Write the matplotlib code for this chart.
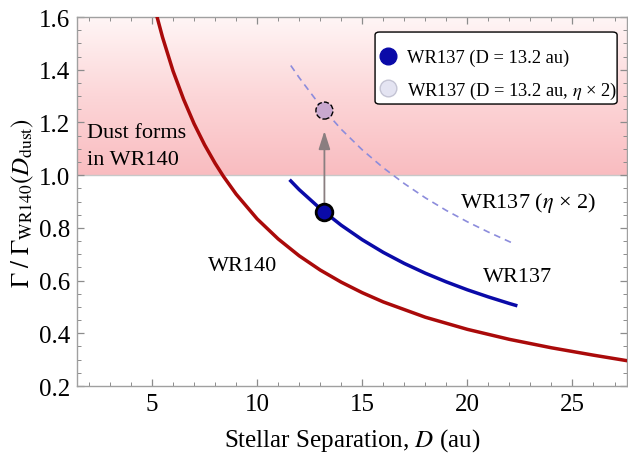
import numpy as np
import matplotlib
matplotlib.use('Agg')
import matplotlib.pyplot as plt
from matplotlib.colors import LinearSegmentedColormap
from matplotlib.lines import Line2D
from matplotlib.patches import FancyBboxPatch

# WR140 curve
d_wr140 = [5.24, 5.5, 6.0, 6.5, 7.0, 7.5, 8.0, 8.4, 9.0, 10.0, 11.0, 12.0, 13.0, 14.0,
           15.0, 16.0, 18.0, 20.0, 22.0, 24.0, 26.0, 27.6]
g_wr140 = [1.60, 1.523, 1.395, 1.288, 1.195, 1.115, 1.045, 0.995, 0.928, 0.834, 0.758, 0.694,
           0.640, 0.594, 0.554, 0.519, 0.461, 0.415, 0.377, 0.345, 0.317, 0.296]

# WR137 curve
d_wr137 = [11.6, 12.0, 13.0, 14.0, 15.0, 16.0, 17.0, 18.0, 19.0, 20.0, 21.0, 22.0, 22.3]
g_wr137 = [0.978, 0.945, 0.873, 0.810, 0.755, 0.707, 0.665, 0.628, 0.595, 0.565, 0.538, 0.513, 0.506]

# WR137 with eta x 2
d_eta = [11.6, 12.0, 13.0, 14.0, 15.0, 16.0, 17.0, 18.0, 19.0, 20.0, 21.0, 22.1]
g_eta = [1.416, 1.370, 1.264, 1.174, 1.096, 1.028, 0.968, 0.914, 0.866, 0.823, 0.784, 0.744]

d_mark = 13.2
g_mark = 0.86
g_mark_eta = 1.245

plt.rcParams['font.family'] = ['Liberation Serif', 'DejaVu Serif']
plt.rcParams['mathtext.fontset'] = 'stix'

fig = plt.figure(figsize=(6.28, 4.56), dpi=100)
ax = fig.add_axes([0.1226, 0.1513, 0.876, 0.8092])

xmin, xmax = 1.43, 27.6
ymin, ymax = 0.2, 1.6

# pink gradient "dust forms" region
cmap = LinearSegmentedColormap.from_list('pk', ['#f9bcc0', '#fcd6d8', '#fff6f6'])
grad = np.linspace(0, 1, 256).reshape(-1, 1)
ax.imshow(grad, cmap=cmap, origin='lower', aspect='auto',
          extent=[xmin, xmax, 1.0, ymax], zorder=0)
ax.axhline(1.0, color='#c8c8c8', lw=1, zorder=1)

ax.plot(d_wr140, g_wr140, color='#aa0a0a', lw=2.5, zorder=3)
ax.plot(d_wr137, g_wr137, color='#0a0aa8', lw=2.5, zorder=3)
ax.plot(d_eta, g_eta, color='#8c8cdc', lw=1.2, ls=(0, (4, 3)), zorder=3)

ax.annotate('', xy=(d_mark, 1.178), xytext=(d_mark, g_mark),
            arrowprops=dict(arrowstyle='-|>,head_length=1.1,head_width=0.35',
                            color='#8a7e80', lw=1.3), zorder=4)

ax.plot([d_mark], [g_mark], 'o', ms=12, mfc='#0a0aa8', mec='black', mew=2, zorder=5)
ax.scatter([d_mark], [g_mark_eta], s=150, facecolors='#c9a8cf', edgecolors='black',
           linewidths=1, linestyles='--', zorder=6)

ax.text(1.9, 1.11, 'Dust forms\nin WR140', fontsize=16, va='center', ha='left',
        linespacing=1.6)
ax.text(19.67, 0.90, 'WR137 ($\\eta$ \u00d7 2)', fontsize=16, va='center')
ax.text(20.76, 0.617, 'WR137', fontsize=16, va='center')
ax.text(7.67, 0.659, 'WR140', fontsize=16, va='center')

# legend box drawn by hand so the padding matches
box = FancyBboxPatch((0.5418, 0.7642), 0.44, 0.1951, transform=ax.transAxes,
                     boxstyle='round,pad=0,rounding_size=0.008', facecolor='white',
                     edgecolor='black', lw=1.0, zorder=7)
ax.add_patch(box)

handles = [
    Line2D([], [], marker='o', ls='none', ms=12, mfc='#0a0aa8', mec='#0a0aa8'),
    Line2D([], [], marker='o', ls='none', ms=12, mfc='#e4e4f2', mec='#c4c4d4', mew=1),
]
leg = ax.legend(handles, ['WR137 (D = 13.2 au)', 'WR137 (D = 13.2 au, $\\eta$ \u00d7 2)'],
                loc='upper left', bbox_to_anchor=(0.5467, 0.9132), borderaxespad=0,
                fontsize=13.3, frameon=False, handletextpad=0.46, borderpad=0,
                labelspacing=0.72, handlelength=1.1)
leg.set_zorder(8)

ax.set_xlim(xmin, xmax)
ax.set_ylim(ymin, ymax)
ax.set_xticks([5, 10, 15, 20, 25])
ax.set_xticks(np.arange(2, 28, 1), minor=True)
ax.set_yticks([0.2, 0.4, 0.6, 0.8, 1.0, 1.2, 1.4, 1.6])
ax.set_yticks(np.arange(0.2, 1.61, 0.05), minor=True)
ax.set_yticklabels(['0.2', '0.4', '0.6', '0.8', '1.0', '1.2', '1.4', '1.6'])
ax.tick_params(which='both', direction='in', color='#8c8c8c', labelsize=18,
               top=True, right=True, labelright=False, labeltop=False)
ax.tick_params(which='major', length=5, width=0.9, pad=5)
ax.tick_params(which='minor', length=3, width=0.7)
for s in ax.spines.values():
    s.set_color('#a0a0a0')
    s.set_linewidth(1)

ax.set_xlabel(r'Stellar Separation, $D$ (au)', fontsize=18, labelpad=8)
ax.set_ylabel(r'$\Gamma\ /\ \Gamma_{\rm WR140}(D_{\rm dust})$', fontsize=18, labelpad=2)

fig.savefig('out.png', dpi=100)
